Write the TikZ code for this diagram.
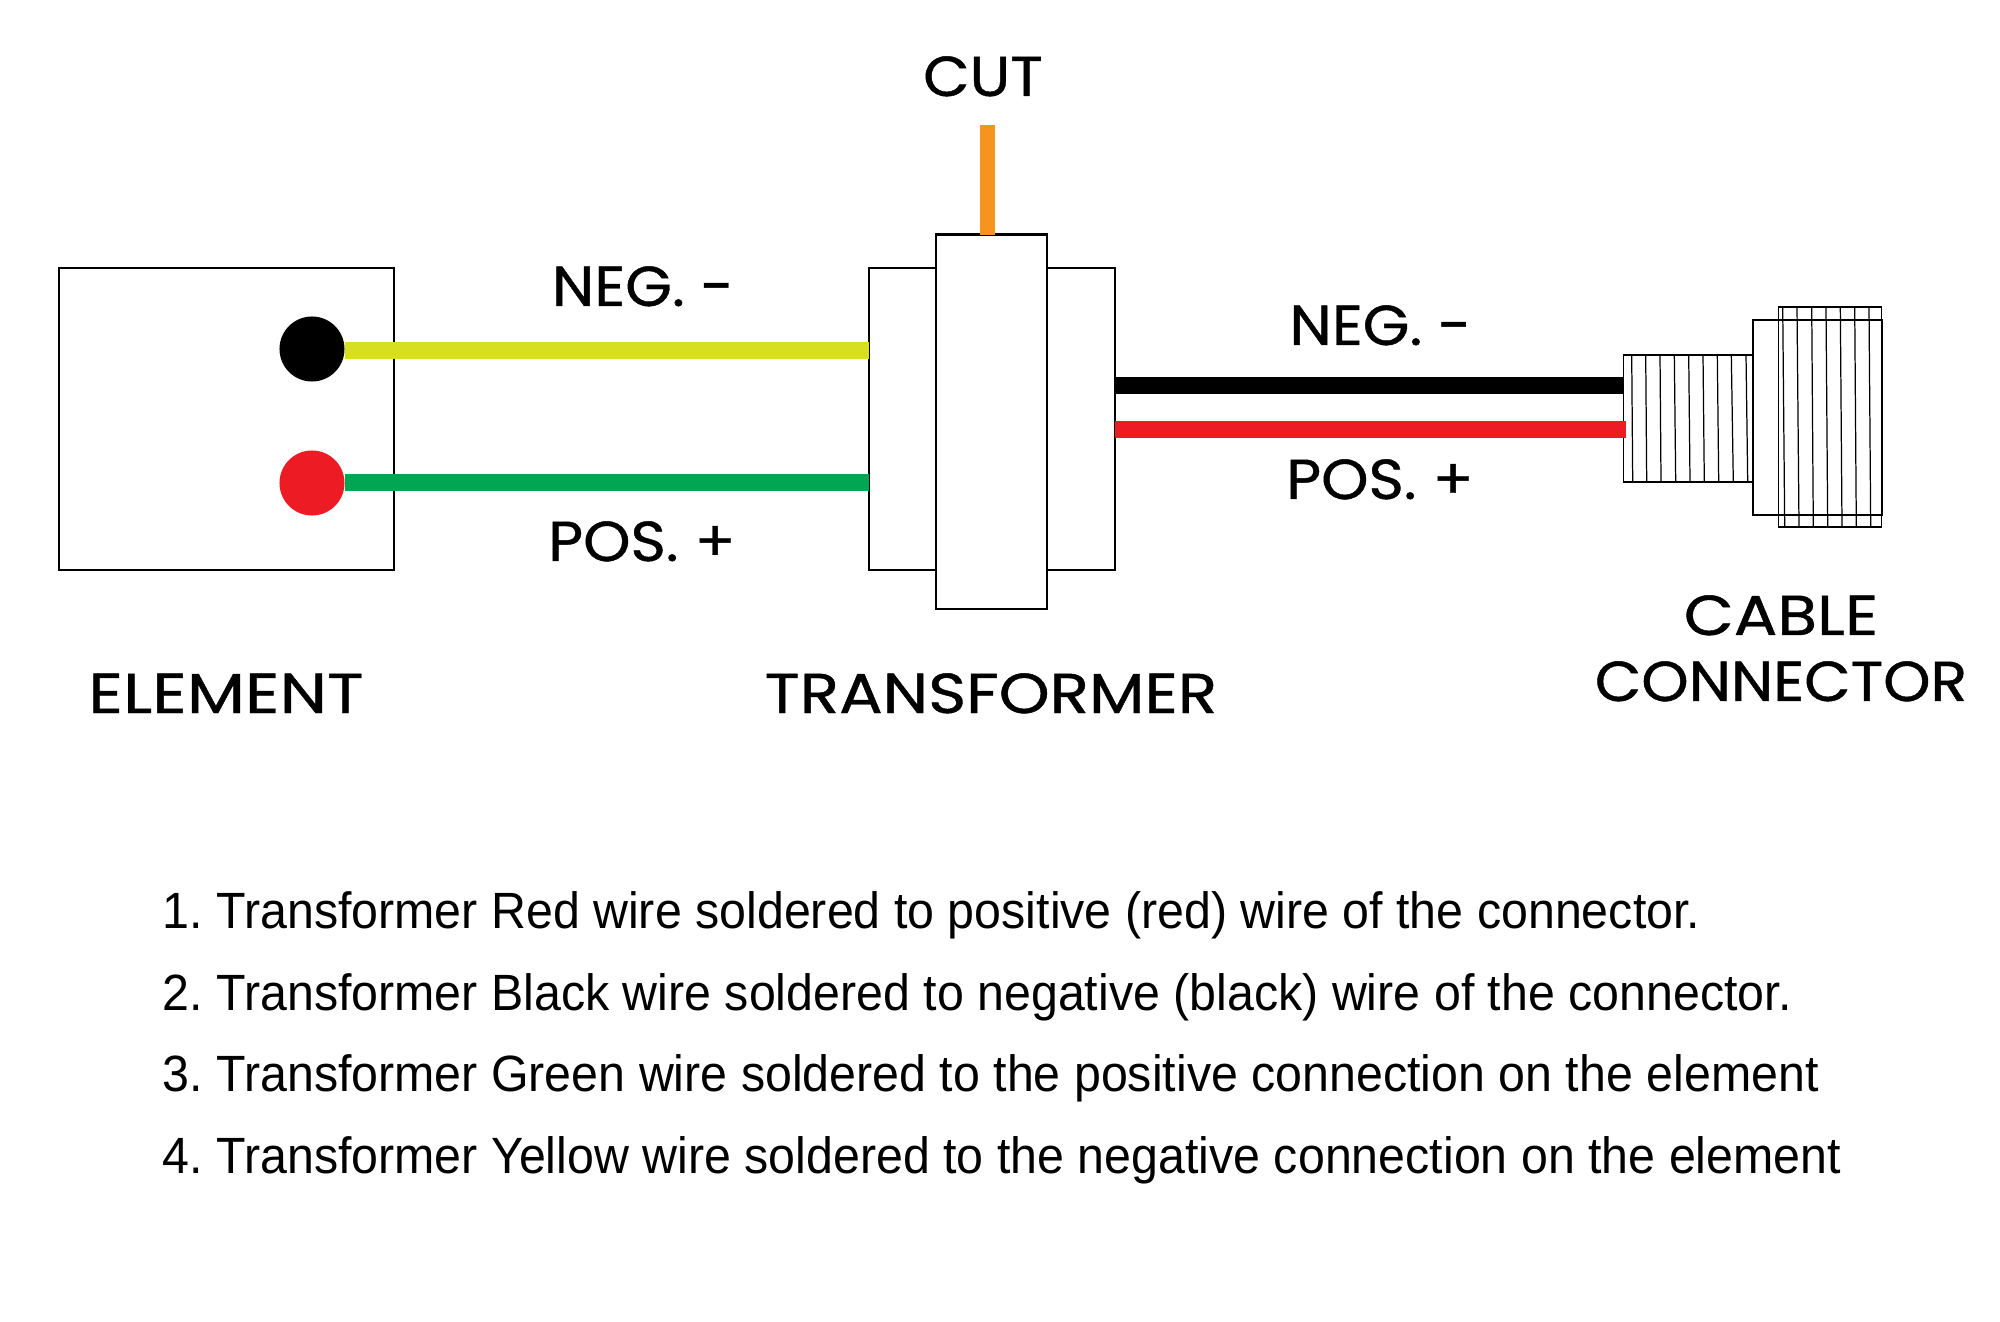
\documentclass[tikz,border=0pt]{standalone}
\usepackage{fontspec}
\setmainfont[FakeStretch=0.948]{Liberation Sans}
\newfontfamily\labelfont[FakeStretch=1.15,FakeBold=0.8]{Poppins}
\newfontfamily\labelfontn[FakeStretch=1.07,FakeBold=0.8]{Poppins}
\newfontfamily\labelfontw[FakeStretch=1.2,FakeBold=0.8]{Poppins}
\frenchspacing
\usetikzlibrary{positioning,calc}
\definecolor{wireyellow}{HTML}{D7DF21}
\definecolor{wiregreen}{HTML}{00A651}
\definecolor{wirered}{HTML}{ED1C24}
\definecolor{wireorange}{HTML}{F7941E}
\tikzset{
    box/.style={draw, line width=0.65pt, fill=white, inner sep=0pt, outer sep=0pt},
    dot/.style={circle, minimum size=0.65cm, inner sep=0pt, outer sep=0pt},
    title/.style={font=\labelfont\fontsize{16}{16}\selectfont, anchor=base, inner sep=0pt},
    titlen/.style={title, font=\labelfontn\fontsize{16}{16}\selectfont},
    titlew/.style={title, font=\labelfontw\fontsize{16}{16}\selectfont},
    note/.style={font=\fontsize{14.5}{14.5}\selectfont, anchor=base west, inner sep=0pt},
    rib/.style={line width=0.35pt}
}
\begin{document}
\begin{tikzpicture}[x=0.01cm, y=-0.01cm]
            \useasboundingbox (0,0) rectangle (2000,1322);

            % Element
            \node[box, minimum width=3.35cm, minimum height=3.02cm] (elem) at (226.5,419) {};
            \node[dot, fill=black] (dotneg) at (312,349) {};
            \node[dot, fill=wirered] (dotpos) at (312,483) {};
            \node[titlew] (elemlab) at (226,713) {ELEMENT};

            % Transformer
            \node[box, minimum width=2.465cm, minimum height=3.02cm] (side) at (992,419) {};
            \node[box, minimum width=1.105cm, minimum height=3.745cm] (core) at (991.6,422) {};
            \node[title] (xfmrlab) at (991,713) {TRANSFORMER};
            \node[titlen] (cutlab) at (983,96) {CUT};

            % Cable connector
            \node[box, rib, minimum width=1.29cm, minimum height=1.27cm] (neck) at (1688,418.5) {};
            \node[box, rib, minimum width=1.03cm, minimum height=2.20cm, fill=none] (ribs) at (1830,417) {};
            \node[box, rib, minimum width=1.29cm, minimum height=1.95cm, fill=none] (head) at (1817.5,417.5) {};
            \foreach \xa/\xb in {1631.7/1632.7,1645.7/1646.7,1660/1661,1674.3/1675.7,1688.7/1690,1703/1704.3,1717.3/1718.7,1731.3/1733.3,1746/1747.7}
                \draw[rib] (\xa,355) -- (\xb,482);
            \foreach \xa/\xb in {1782.7/1784.7,1797/1799,1811.7/1813.3,1826/1827.7,1840.3/1842,1854.7/1856.3,1869/1870.7}
                \draw[rib] (\xa,307) -- (\xb,527);

            % Wires
            \fill[wireyellow] (dotneg.east |- 0,342) rectangle (side.west |- 0,359);
            \fill[wiregreen] (dotpos.east |- 0,474) rectangle (side.west |- 0,491);
            \fill[black] (side.east |- 0,377) rectangle (neck.west |- 0,394);
            \fill[wirered] (side.east |- 0,421) rectangle ($(neck.west |- 0,438)+(2.5,0)$);
            \fill[wireorange] (980,125) rectangle (core.north -| 995,0);

            \node[titlen] (negl) at (643,306) {NEG. -};
            \node[titlen] (posl) at (642,561) {POS. +};
            \node[titlen] (negr) at (1380.5,345) {NEG. -};
            \node[titlen] (posr) at (1380,499) {POS. +};
            \node[title] (cablelab) at (1781,635) {CABLE};
            \node[titlen] (connlab) at (1781,701) {CONNECTOR};

            % Notes
            \node[note] (n1) at (162,928) {1. Transformer Red wire soldered to positive (red) wire of the connector.};
            \node[note] (n2) at (162,1010) {2. Transformer Black wire soldered to negative (black) wire of the connector.};
            \node[note] (n3) at (162,1091.5) {3. Transformer Green wire soldered to the positive connection on the element};
            \node[note] (n4) at (162,1173.5) {4. Transformer Yellow wire soldered to the negative connection on the element};
        \end{tikzpicture}
\end{document}
